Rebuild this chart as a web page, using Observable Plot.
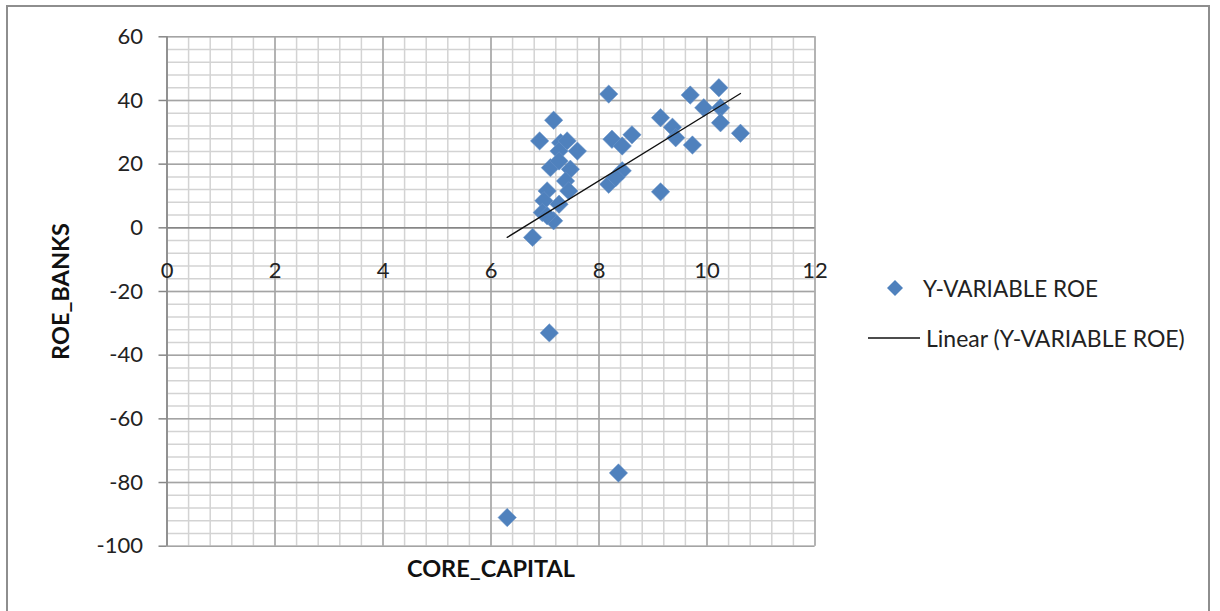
<!DOCTYPE html>
<html>
<head>
<meta charset="utf-8">
<script src="https://cdn.jsdelivr.net/npm/d3@7"></script>
<script src="https://cdn.jsdelivr.net/npm/@observablehq/plot@0.6"></script>
<style>
  html, body { margin: 0; padding: 0; background: #fff; }
  #wrap { position: relative; width: 1220px; height: 611px; overflow: hidden; font-family: Lato, sans-serif; }
  #frame { position: absolute; left: 6px; top: 5px; width: 1204px; height: 640px; border: 2px solid #8e8e8e; box-sizing: border-box; pointer-events: none; }
  #legend { position: absolute; left: 866px; top: 270px; font-size: 22.5px; color: #222; }
  .row { position: absolute; white-space: nowrap; display: flex; align-items: center; }
</style>
</head>
<body>
<div id="wrap">
  <div id="chart"></div>
  <div id="frame"></div>
  <div id="legend"></div>
</div>
<script>
// X-axis: CORE_CAPITAL, Y-axis: ROE_BANKS
const coreCapital = [6.30, 7.08, 8.36, 6.77, 6.90, 7.16, 7.29, 7.41, 7.60, 7.26, 7.10, 7.26, 7.47, 7.38, 7.44, 7.04, 6.98, 7.26, 6.95, 7.16, 7.04, 8.18, 8.24, 8.43, 8.61, 8.43, 8.18, 8.31, 9.14, 9.14, 9.36, 9.42, 9.69, 9.73, 9.94, 10.22, 10.25, 10.25, 10.62];
const roeBanks    = [-91, -33, -77, -3.0, 27.3, 33.8, 26.7, 27.3, 24.1, 24.1, 18.9, 21.0, 18.4, 14.7, 11.6, 11.6, 8.5, 7.4, 4.8, 2.2, 3.8, 42.0, 27.8, 25.7, 29.2, 17.9, 13.7, 15.8, 11.3, 34.6, 31.6, 28.3, 41.7, 26.0, 37.7, 44.0, 37.7, 33.0, 29.7];
// Linear trendline endpoints
const trendX = [6.30, 10.62];
const trendY = [-3.0, 42.2];
// Ticks and grid
const xTicks = [0, 2, 4, 6, 8, 10, 12];
const yTicks = [60, 40, 20, 0, -20, -40, -60, -80, -100];
const xMinor = d3.range(0, 12.001, 0.4);
const yMinor = d3.range(-100, 60.001, 4);
const seriesName = "Y-VARIABLE ROE";
const trendName = "Linear (Y-VARIABLE ROE)";
const xTitle = "CORE_CAPITAL";
const yTitle = "ROE_BANKS";

const points = coreCapital.map((x, i) => ({x, y: roeBanks[i]}));
const trend = trendX.map((x, i) => ({x, y: trendY[i]}));

const chart = Plot.plot({
  width: 1220,
  height: 611,
  marginLeft: 166.5,
  marginRight: 405.5,
  marginTop: 36.3,
  marginBottom: 65.3,
  x: {domain: [0, 12], axis: null},
  y: {domain: [-100, 60]},
  style: {fontFamily: "Lato, sans-serif", fontSize: "22px", color: "#222", background: "#fff"},
  marks: [
    Plot.ruleX(xMinor, {stroke: "#d3d3d3", strokeWidth: 1.5}),
    Plot.ruleY(yMinor, {stroke: "#d3d3d3", strokeWidth: 1.5}),
    Plot.ruleX(xTicks, {stroke: "#a4a4a4", strokeWidth: 1.5}),
    Plot.ruleY(yTicks, {stroke: "#a4a4a4", strokeWidth: 1.5}),
    Plot.ruleX([0], {stroke: "#868686", strokeWidth: 1.5}),
    Plot.ruleY([0], {stroke: "#868686", strokeWidth: 1.5}),
    Plot.axisY({ticks: yTicks, tickSize: 8, tickPadding: 16, stroke: "#868686", strokeWidth: 1.5, label: null, tickFormat: d => String(d), fontSize: 22}),
    Plot.text(xTicks, {x: d => d, y: 0, dy: 43, text: d => String(d), fontSize: 22, fill: "#222"}),
    Plot.dot(points, {x: "x", y: "y", symbol: "diamond2", r: 8.3, fill: "#4f81bd", stroke: "#6a95c8", strokeWidth: 0.5}),
    Plot.line(trend, {x: "x", y: "y", stroke: "#111", strokeWidth: 1.3}),
    Plot.text([yTitle], {frameAnchor: "left", rotate: -90, dx: -106, textAnchor: "middle", lineAnchor: "middle", fontWeight: "bold", fontSize: 23.5, fill: "#111"}),
    Plot.text([xTitle], {frameAnchor: "bottom", dy: 23, textAnchor: "middle", lineAnchor: "middle", fontWeight: "bold", fontSize: 23.5, fill: "#111"})
  ]
});
document.getElementById("chart").appendChild(chart);

// Legend
const legend = d3.select("#legend");
const r1 = legend.append("div").attr("class", "row").style("left", "0px").style("top", "0px").style("height", "36px");
r1.append("svg").attr("width", 57).attr("height", 36)
  .append("path").attr("d", "M29,10 L37,18 L29,26 L21,18 Z").attr("fill", "#4f81bd");
r1.append("span").text(seriesName);
const r2 = legend.append("div").attr("class", "row").style("left", "0px").style("top", "50px").style("height", "36px");
r2.append("svg").attr("width", 58).attr("height", 36)
  .append("line").attr("x1", 2).attr("x2", 54).attr("y1", 18).attr("y2", 18).attr("stroke", "#111").attr("stroke-width", 1.3);
r2.append("span").style("margin-left", "2px").style("font-size", "23px").text(trendName);
</script>
</body>
</html>
